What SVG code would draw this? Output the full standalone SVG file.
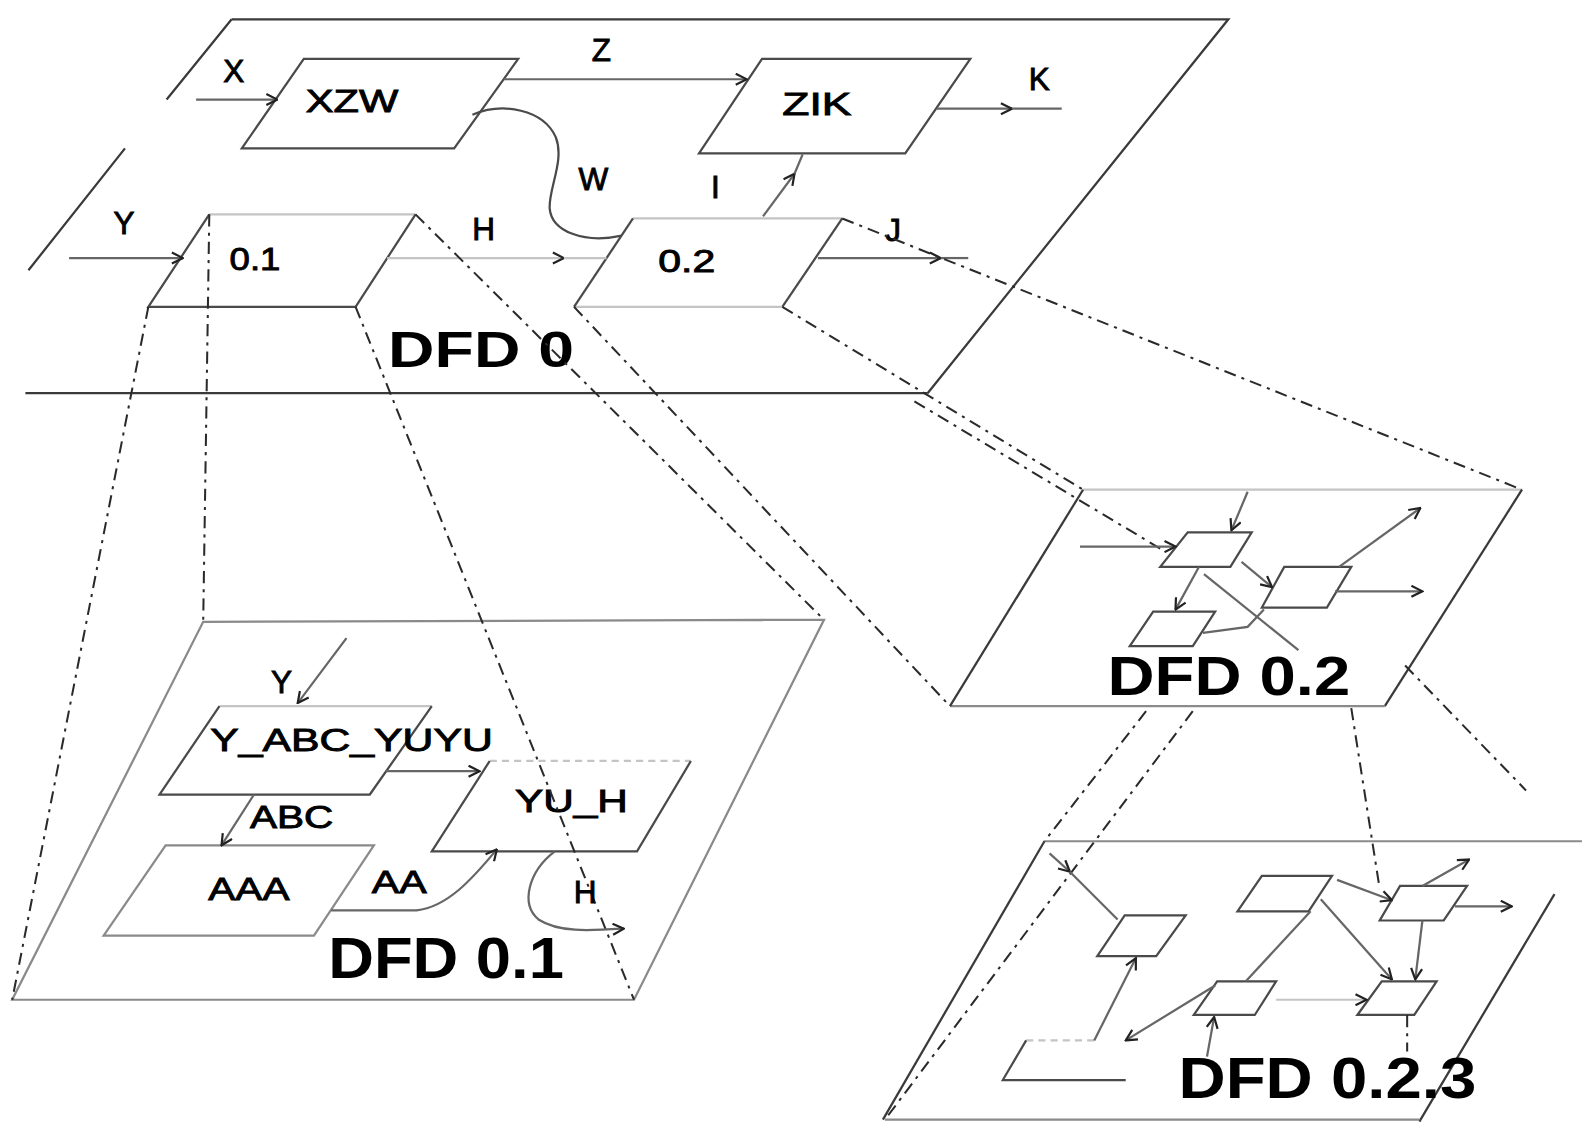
<svg xmlns="http://www.w3.org/2000/svg" width="1593" height="1130" viewBox="0 0 1593 1130">
<style>
.lbl{font-family:"Liberation Sans",Arial,sans-serif;font-size:31px;fill:#000;stroke:#000;stroke-width:0.9px}
.big{font-family:"Liberation Sans",Arial,sans-serif;font-weight:bold;fill:#000}
.pl{fill:none;stroke:#3a3a3a;stroke-width:2.2}
.plg{fill:none;stroke:#8a8a8a;stroke-width:2.2}
.pr{fill:none;stroke:#4a4a4a;stroke-width:2.2}
.lt{fill:none;stroke:#c4c4c4;stroke-width:2.2}
.fl{fill:none;stroke:#666;stroke-width:2.2}
.pj{fill:none;stroke:#2a2a2a;stroke-width:2;stroke-dasharray:12 6 3 6}
.dot{fill:none;stroke:#c4c4c4;stroke-width:2.2;stroke-dasharray:7 5}
</style>
<defs>
<marker id="ah" viewBox="0 0 12 12" refX="11" refY="6" markerWidth="13" markerHeight="13" markerUnits="userSpaceOnUse" orient="auto-start-reverse">
<path d="M1,1 L11,6 L1,11" fill="none" stroke="#222" stroke-width="2"/>
</marker>
</defs>
<rect x="0" y="0" width="1593" height="1130" fill="#fff"/>
<g transform="scale(1.016)">

<!-- planes -->
<g id="plane-dfd0">
<path class="pl" d="M228,19 L1209,19 L913,387"/>
<path class="pl" d="M25,387 L913,387"/>
<path class="pl" d="M228,19 L164,98 M123,146 L28,266"/>
<text class="big" x="382" y="361" font-size="50" textLength="183" lengthAdjust="spacingAndGlyphs">DFD 0</text>
</g>
<g id="plane-dfd01">
<path class="plg" d="M200,612 L811,610 L624,984 L12,984 Z"/>
<text class="big" x="323" y="963" font-size="57" textLength="232" lengthAdjust="spacingAndGlyphs">DFD 0.1</text>
</g>
<g id="plane-dfd02">
<path class="lt" d="M1066,482 L1498,482"/>
<path class="pl" d="M1498,482 L1363,695"/>
<path class="plg" d="M1363,695 L935,695"/>
<path class="pl" d="M935,695 L1066,482"/>
<text class="big" x="1090" y="684" font-size="54" textLength="239" lengthAdjust="spacingAndGlyphs">DFD 0.2</text>
</g>
<g id="plane-dfd023">
<path class="plg" d="M1028,828 L1557,828"/>
<path class="pl" d="M1530,880 L1397,1104"/>
<path class="plg" d="M871,1102 L1397,1102"/>
<path class="pl" d="M1028,828 L869,1102"/>
<text class="big" x="1160" y="1081" font-size="56" textLength="293" lengthAdjust="spacingAndGlyphs">DFD 0.2.3</text>
</g>

<!-- DFD 0 processes -->
<g id="node-xzw">
<path class="pr" d="M299,58 L510,58 L447,146 L238,146 Z"/>
<text class="lbl" x="301" y="110" textLength="91" lengthAdjust="spacingAndGlyphs">XZW</text>
</g>
<g id="node-zik">
<path class="pr" d="M750,58 L955,58 L891,151 L688,151 Z"/>
<text class="lbl" x="770" y="113" textLength="68" lengthAdjust="spacingAndGlyphs">ZIK</text>
</g>
<g id="node-01">
<path class="lt" d="M206,211 L409,211"/>
<path class="pr" d="M409,211 L350,302 L146,302 L206,211"/>
<text class="lbl" x="226" y="266" textLength="50" lengthAdjust="spacingAndGlyphs">0.1</text>
</g>
<g id="node-02">
<path class="lt" d="M623,215 L829,215"/>
<path class="pr" d="M829,215 L770,302"/>
<path class="lt" d="M770,302 L565,302"/>
<path class="pr" d="M565,302 L623,215"/>
<text class="lbl" x="648" y="268" textLength="56" lengthAdjust="spacingAndGlyphs">0.2</text>
</g>

<!-- DFD 0.1 processes -->
<g id="node-yabcyuyu">
<path class="lt" d="M216,695 L425,695"/>
<path class="pr" d="M425,695 L364,782 L157,782 L216,695"/>
<text class="lbl" x="207" y="739" textLength="278" lengthAdjust="spacingAndGlyphs">Y_ABC_YUYU</text>
</g>
<g id="node-aaa">
<path class="plg" d="M163,832 L368,832 L309,921 L102,921 Z"/>
<text class="lbl" x="205" y="886" textLength="80" lengthAdjust="spacingAndGlyphs">AAA</text>
</g>
<g id="node-yuh">
<path class="dot" d="M482,749 L680,749"/>
<path class="pr" d="M680,749 L627,838 L425,838 L482,749"/>
<text class="lbl" x="507" y="799" textLength="111" lengthAdjust="spacingAndGlyphs">YU_H</text>
</g>

<!-- DFD 0.2 processes -->
<g id="node-d02a"><path class="pr" d="M1169,524 L1232,524 L1211,558 L1142,558 Z"/></g>
<g id="node-d02b"><path class="pr" d="M1264,558 L1330,558 L1306,598 L1242,598 Z"/></g>
<g id="node-d02c"><path class="pr" d="M1135,602 L1196,602 L1174,636 L1112,636 Z"/></g>

<!-- DFD 0.2.3 processes -->
<g id="node-d023p"><path class="pr" d="M1107,901 L1167,901 L1138,941 L1080,941 Z"/></g>
<g id="node-d023q"><path class="pr" d="M1242,862 L1311,862 L1288,897 L1218,897 Z"/></g>
<g id="node-d023r"><path class="pr" d="M1378,872 L1444,872 L1421,906 L1358,906 Z"/></g>
<g id="node-d023s"><path class="pr" d="M1360,966 L1414,966 L1392,999 L1336,999 Z"/></g>
<g id="node-d023t"><path class="pr" d="M1198,966 L1256,966 L1235,999 L1175,999 Z"/></g>
<g id="node-d023u">
<path class="dot" d="M1077,1024 L1010,1024"/>
<path class="pr" d="M1010,1024 L987,1063 L1108,1063"/>
</g>

<!-- connectors -->
<g id="connectors">
<path class="fl" d="M193,98 L273,98" marker-end="url(#ah)"/>
<text class="lbl" x="230" y="81" text-anchor="middle">X</text>
<path class="fl" d="M496,78 L735,78" marker-end="url(#ah)"/>
<text class="lbl" x="592" y="60" text-anchor="middle">Z</text>
<path class="fl" d="M922,107 L996,107" marker-end="url(#ah)"/>
<path class="fl" d="M996,107 L1045,107"/>
<text class="lbl" x="1023" y="89" text-anchor="middle">K</text>
<path class="fl" d="M751,213 L782,171" marker-end="url(#ah)"/>
<path class="fl" d="M782,171 L790,152"/>
<text class="lbl" x="704" y="195" text-anchor="middle">I</text>
<path class="pr" d="M465,113 C495,100 535,108 547,135 C556,158 540,185 541,205 C543,228 575,240 612,232"/>
<text class="lbl" x="584" y="187" text-anchor="middle">W</text>
<path class="fl" d="M68,254 L180,254" marker-end="url(#ah)"/>
<text class="lbl" x="122" y="230" text-anchor="middle">Y</text>
<path class="lt" d="M381,254 L555,254" marker-end="url(#ah)"/>
<path class="lt" d="M555,254 L597,254"/>
<text class="lbl" x="476" y="236" text-anchor="middle">H</text>
<path class="fl" d="M805,254 L926,254" marker-end="url(#ah)"/>
<path class="fl" d="M926,254 L953,254"/>
<text class="lbl" x="879" y="237" text-anchor="middle">J</text>

<path class="pj" d="M146,302 L12,984"/>
<path class="pj" d="M206,211 L200,612"/>
<path class="pj" d="M409,211 L811,610"/>
<path class="pj" d="M350,302 L624,984"/>
<path class="pj" d="M565,302 L935,695"/>
<path class="pj" d="M770,302 L1066,482"/>
<path class="pj" d="M900,395 L1142,540"/>
<path class="pj" d="M829,215 L1498,482"/>
<path class="pj" d="M1128,700 L1028,828"/>
<path class="pj" d="M1174,700 L871,1102"/>
<path class="pj" d="M1330,697 L1358,875"/>
<path class="pj" d="M1383,655 L1502,778"/>

<path class="fl" d="M341,628 L293,692" marker-end="url(#ah)"/>
<text class="lbl" x="277" y="682" text-anchor="middle">Y</text>
<path class="fl" d="M250,782 L218,832" marker-end="url(#ah)"/>
<text class="lbl" x="246" y="815" textLength="82" lengthAdjust="spacingAndGlyphs">ABC</text>
<path class="fl" d="M380,759 L472,759" marker-end="url(#ah)"/>
<path class="fl" d="M326,896 L410,896 C440,893 465,865 489,836" marker-end="url(#ah)"/>
<text class="lbl" x="366" y="879" textLength="54" lengthAdjust="spacingAndGlyphs">AA</text>
<path class="fl" d="M546,838 C520,858 512,890 530,905 C550,918 580,916 614,914" marker-end="url(#ah)"/>
<text class="lbl" x="576" y="889" text-anchor="middle">H</text>

<path class="fl" d="M1063,538 L1157,538" marker-end="url(#ah)"/>
<path class="fl" d="M1228,484 L1212,522" marker-end="url(#ah)"/>
<path class="fl" d="M1180,558 L1157,600" marker-end="url(#ah)"/>
<path class="fl" d="M1222,553 L1252,578" marker-end="url(#ah)"/>
<path class="fl" d="M1318,558 L1398,500" marker-end="url(#ah)"/>
<path class="fl" d="M1314,582 L1400,582" marker-end="url(#ah)"/>
<path class="fl" d="M1185,565 L1278,640"/>
<path class="fl" d="M1184,623 L1228,617 L1244,600"/>

<path class="fl" d="M1033,840 L1053,858" marker-end="url(#ah)"/>
<path class="fl" d="M1053,858 L1100,905"/>
<path class="fl" d="M1118,943 L1077,1024" marker-start="url(#ah)"/>
<path class="fl" d="M1290,897 L1226,966"/>
<path class="fl" d="M1196,970 L1108,1024" marker-end="url(#ah)"/>
<path class="fl" d="M1316,866 L1370,886" marker-end="url(#ah)"/>
<path class="fl" d="M1300,885 L1370,964" marker-end="url(#ah)"/>
<path class="fl" d="M1400,872 L1446,846" marker-end="url(#ah)"/>
<path class="fl" d="M1432,892 L1488,892" marker-end="url(#ah)"/>
<path class="fl" d="M1400,906 L1393,964" marker-end="url(#ah)"/>
<path class="lt" d="M1256,984 L1345,984" marker-end="url(#ah)"/>
<path class="fl" d="M1188,1040 L1195,1001" marker-end="url(#ah)"/>
<path class="pj" d="M1385,999 L1385,1035"/>
</g>
</g>
</svg>
